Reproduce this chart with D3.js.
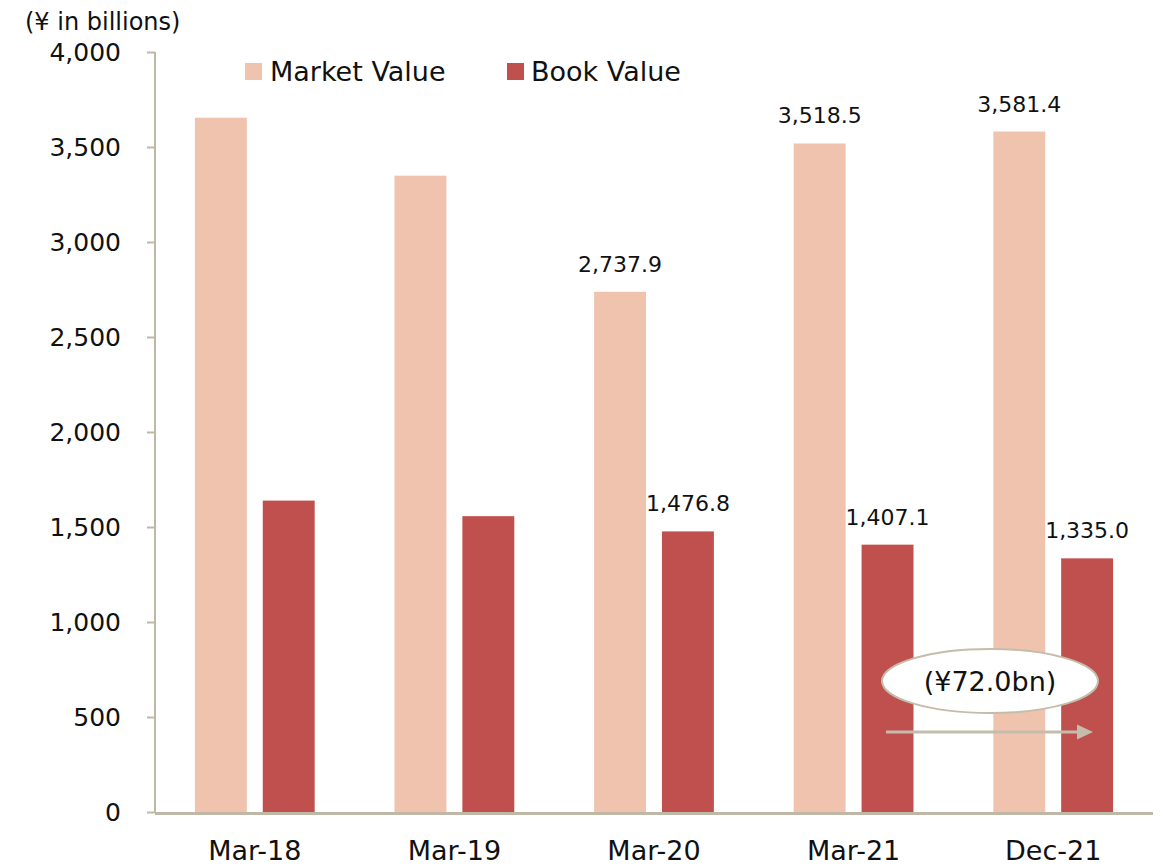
<!DOCTYPE html>
<html>
<head>
<meta charset="utf-8">
<script src="https://cdn.jsdelivr.net/npm/d3@7"></script>
<style>
  html, body { margin: 0; padding: 0; background: #fff; }
  text { font-family: "DejaVu Sans", Verdana, sans-serif; fill: #111; }
</style>
</head>
<body>
<svg id="chart" width="1163" height="867"></svg>
<script>
const categories = ["Mar-18", "Mar-19", "Mar-20", "Mar-21", "Dec-21"];
const marketValue = [3654, 3349, 2737.9, 3518.5, 3581.4];
const bookValue = [1639, 1557, 1476.8, 1407.1, 1335.0];
const marketLabels = [null, null, "2,737.9", "3,518.5", "3,581.4"];
const bookLabels = [null, null, "1,476.8", "1,407.1", "1,335.0"];
const yTicks = [0, 500, 1000, 1500, 2000, 2500, 3000, 3500, 4000];
const seriesNames = ["Market Value", "Book Value"];
const annotationText = "(¥72.0bn)";
const unitText = "(¥ in billions)";

const colors = { "Market Value": "#F0C3AE", "Book Value": "#C0504D" };
const axisColor = "#BFB8A6";

const svg = d3.select("#chart");
const plotLeft = 155, plotRight = 1153, plotTop = 52, plotBottom = 812;

const y = d3.scaleLinear().domain([0, 4000]).range([plotBottom, plotTop]);
const x0 = d3.scaleBand().domain(categories).range([plotLeft, plotRight]).paddingInner(0.4).paddingOuter(0.2);
const x1 = d3.scaleBand().domain(seriesNames).range([0, x0.bandwidth()]).paddingInner(0.235);

const rows = categories.map((c, i) => ({
  cat: c,
  vals: [
    { key: "Market Value", v: marketValue[i], label: marketLabels[i] },
    { key: "Book Value", v: bookValue[i], label: bookLabels[i] }
  ]
}));

// bars
const g = svg.append("g");
const groups = g.selectAll("g.grp").data(rows).enter().append("g")
  .attr("transform", d => `translate(${x0(d.cat)},0)`);
groups.selectAll("rect").data(d => d.vals).enter().append("rect")
  .attr("x", d => x1(d.key))
  .attr("width", x1.bandwidth())
  .attr("y", d => y(d.v))
  .attr("height", d => y(0) - y(d.v))
  .attr("fill", d => colors[d.key]);
groups.selectAll("text.lbl").data(d => d.vals.filter(v => v.label)).enter().append("text")
  .attr("class", "lbl")
  .attr("x", d => x1(d.key) + x1.bandwidth() / 2)
  .attr("y", d => y(d.v) - 20)
  .attr("text-anchor", "middle")
  .style("font-size", "22px")
  .text(d => d.label);

// y axis
const yAxis = d3.axisLeft(y).tickValues(yTicks).tickSize(8).tickPadding(26)
  .tickFormat(d3.format(","));
const ya = svg.append("g").attr("transform", `translate(${plotLeft},0)`).call(yAxis);
ya.select(".domain").attr("stroke", axisColor).attr("stroke-width", 2).attr("d", `M0,${plotTop}V${plotBottom}`);
ya.selectAll(".tick line").attr("stroke", axisColor).attr("stroke-width", 2);
ya.selectAll(".tick text").style("font-size", "25px").style("font-family", '"DejaVu Sans", Verdana, sans-serif').attr("fill", "#111");

// x axis
const xAxis = d3.axisBottom(x0).tickSize(0).tickPadding(40);
const xa = svg.append("g").attr("transform", `translate(0,${plotBottom})`).call(xAxis);
xa.select(".domain").attr("stroke", axisColor).attr("stroke-width", 3).attr("d", `M${plotLeft},1.5H${plotRight}`);
xa.selectAll(".tick text").style("font-size", "27px").style("font-family", '"DejaVu Sans", Verdana, sans-serif').attr("fill", "#111").attr("dy", "0.3em");

// unit label
svg.append("text").attr("x", 25).attr("y", 30).style("font-size", "24px").text(unitText);

// legend
const legendPos = [{ x: 245, tx: 270 }, { x: 507, tx: 531 }];
seriesNames.forEach((s, i) => {
  svg.append("rect").attr("x", legendPos[i].x).attr("y", 63).attr("width", 17).attr("height", 17).attr("fill", colors[s]);
  svg.append("text").attr("x", legendPos[i].tx).attr("y", 81).style("font-size", "27px").text(s);
});

// annotation
svg.append("ellipse").attr("cx", 990).attr("cy", 681).attr("rx", 108).attr("ry", 32)
  .attr("fill", "#fff").attr("stroke", "#C4BDAB").attr("stroke-width", 2);
svg.append("text").attr("x", 990).attr("y", 691).attr("text-anchor", "middle")
  .style("font-size", "27px").text(annotationText);
svg.append("line").attr("x1", 886).attr("x2", 1078).attr("y1", 732).attr("y2", 732)
  .attr("stroke", "#C4BDAB").attr("stroke-width", 3);
svg.append("path").attr("d", "M1093,732L1077,724.5L1077,739.5Z").attr("fill", "#C4BDAB");
</script>
</body>
</html>
